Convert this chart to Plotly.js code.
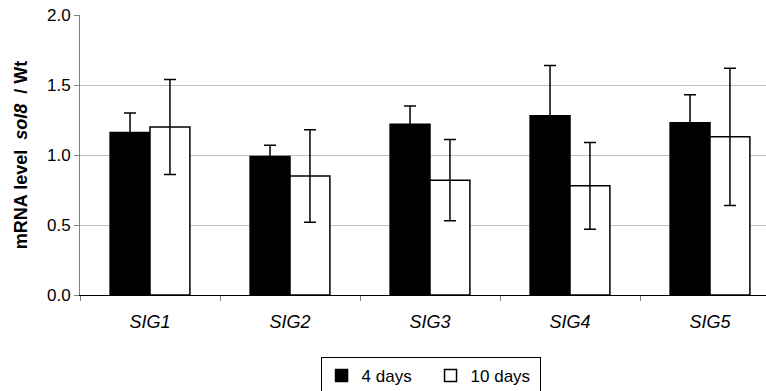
<!DOCTYPE html>
<html>
<head>
<meta charset="utf-8">
<script src="https://cdn.plot.ly/plotly-3.0.1.min.js"></script>
<style>html,body{margin:0;padding:0;background:#fff;}</style>
</head>
<body>
<div id="chart" style="width:766px;height:391px;"></div>
<script>
const categories = ["SIG1", "SIG2", "SIG3", "SIG4", "SIG5"];
const days4 = [1.16, 0.99, 1.22, 1.28, 1.23];
const days4Err = [0.14, 0.08, 0.13, 0.36, 0.20];
const days10 = [1.20, 0.85, 0.82, 0.78, 1.13];
const days10Err = [0.34, 0.33, 0.29, 0.31, 0.49];
const seriesNames = ["4 days", "10 days"];
const yTicks = [0, 0.5, 1.0, 1.5, 2.0];
const yTickText = ["0.0", "0.5", "1.0", "1.5", "2.0"];

const catLabels = categories.map(c => "<i>" + c + "</i>");

const traces = [
  {
    type: "bar", name: seriesNames[0], x: catLabels, y: days4,
    marker: {color: "#000000", line: {color: "#000000", width: 1.5}},
    error_y: {type: "data", array: days4Err, visible: true, color: "#000000", thickness: 1.5, width: 6}
  },
  {
    type: "bar", name: seriesNames[1], x: catLabels, y: days10,
    marker: {color: "#ffffff", line: {color: "#000000", width: 1.5}},
    error_y: {type: "data", array: days10Err, visible: true, color: "#000000", thickness: 1.5, width: 6}
  }
];

const layout = {
  width: 766, height: 391,
  margin: {l: 80, r: 0, t: 15, b: 96, autoexpand: false},
  paper_bgcolor: "#ffffff", plot_bgcolor: "#ffffff",
  font: {family: "Arial, 'Liberation Sans', sans-serif", size: 17, color: "#000000"},
  barmode: "group", bargap: 0.43, bargroupgap: 0,
  showlegend: true,
  legend: {
    orientation: "h", x: 0.511, xanchor: "center", y: -0.221, yanchor: "top",
    bordercolor: "#000000", borderwidth: 1, font: {size: 17},
    traceorder: "normal", itemwidth: 30, entrywidth: 64
  },
  xaxis: {
    type: "category", range: [-0.5, 4.4],
    showline: true, linecolor: "#000000", linewidth: 1,
    ticks: "outside", ticklen: 5, tickcolor: "#808080", tickson: "boundaries",
    ticklabelstandoff: 10,
    showgrid: false, zeroline: false,
    tickfont: {size: 18}
  },
  yaxis: {
    range: [0, 2], tickvals: yTicks, ticktext: yTickText,
    showline: true, linecolor: "#808080", linewidth: 1,
    ticks: "outside", ticklen: 5, tickcolor: "#808080",
    showgrid: true, gridcolor: "#c0c0c0", gridwidth: 1,
    zeroline: false,
    tickfont: {size: 17},
    title: {text: "<b>mRNA level  <i>sol8</i>  / Wt</b>", font: {size: 18}, standoff: 14}
  }
};

Plotly.newPlot("chart", traces, layout, {displayModeBar: false, staticPlot: true});
</script>
</body>
</html>
